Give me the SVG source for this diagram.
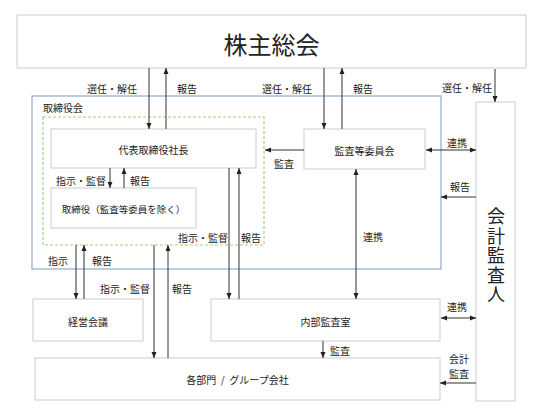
<svg xmlns="http://www.w3.org/2000/svg" width="544" height="412" viewBox="0 0 544 412">
<style>
text{font-family:"Noto Sans CJK JP","Noto Sans",sans-serif;fill:#222;font-size:10px;dominant-baseline:central;text-anchor:middle}
.box{fill:#fff;stroke:#d4d4d4;stroke-width:1.2}
.c line{stroke:#333;stroke-width:1;fill:none}
.a{marker-end:url(#ah)}
.b{marker-end:url(#ah);marker-start:url(#ah)}
</style>
<defs>
<marker id="ah" viewBox="0 0 6 6" refX="6" refY="3" markerWidth="6" markerHeight="6" markerUnits="userSpaceOnUse" orient="auto-start-reverse">
<path d="M0,0.5 L6,3 L0,5.5 z" fill="#222"/>
</marker>
</defs>
<rect width="544" height="412" fill="#fff"/>

<g id="torishimariyakukai">
<rect x="32" y="96" width="409" height="173" fill="none" stroke="#93acc9" stroke-width="1.2"/>
<text x="43" y="107" style="text-anchor:start">取締役会</text>
</g>
<g id="green-group">
<rect x="43" y="117" width="221" height="128" fill="none" stroke="#a3d17a" stroke-width="1.2" stroke-dasharray="3,2"/>
</g>

<g id="kabunushi">
<rect class="box" x="17" y="15" width="509" height="53"/>
<text x="271.5" y="43" style="font-size:24px">株主総会</text>
</g>
<g id="daihyo">
<rect class="box" x="51" y="129" width="205" height="39"/>
<text x="153.5" y="149">代表取締役社長</text>
</g>
<g id="torishimariyaku">
<rect class="box" x="51" y="188" width="145" height="40"/>
<text x="123.5" y="209" style="font-size:9.5px">取締役（監査等委員を除く）</text>
</g>
<g id="kansatou">
<rect class="box" x="304" y="129" width="121" height="40"/>
<text x="364.5" y="150">監査等委員会</text>
</g>
<g id="kaikei">
<rect class="box" x="476" y="102" width="39" height="299"/>
<text x="496" y="256" style="font-size:18px;writing-mode:vertical-rl;letter-spacing:1.5px">会計監査人</text>
</g>
<g id="keiei">
<rect class="box" x="33" y="299" width="110" height="42"/>
<text x="88" y="321">経営会議</text>
</g>
<g id="naibu">
<rect class="box" x="211" y="299" width="229" height="42"/>
<text x="325.5" y="321">内部監査室</text>
</g>
<g id="kakubumon">
<rect class="box" x="35" y="358" width="405" height="42"/>
<text x="237.5" y="379" style="white-space:pre">各部門  /  グループ会社</text>
</g>

<g id="connectors" class="c">
<line class="a" x1="149" y1="68" x2="149" y2="129"/>
<line class="a" x1="166" y1="129" x2="166" y2="68"/>
<line class="a" x1="324" y1="68" x2="324" y2="129"/>
<line class="a" x1="342" y1="129" x2="342" y2="68"/>
<line class="a" x1="495" y1="69" x2="495" y2="102"/>
<line class="a" x1="304" y1="150" x2="265" y2="150"/>
<line class="b" x1="426" y1="150" x2="476" y2="150"/>
<line class="a" x1="476" y1="197" x2="441" y2="197"/>
<line class="a" x1="110" y1="168" x2="110" y2="188"/>
<line class="a" x1="124" y1="188" x2="124" y2="168"/>
<line class="a" x1="76" y1="245" x2="76" y2="299"/>
<line class="a" x1="84" y1="299" x2="84" y2="245"/>
<line class="a" x1="154" y1="245" x2="154" y2="358"/>
<line class="a" x1="168" y1="358" x2="168" y2="245"/>
<line class="a" x1="229" y1="168" x2="229" y2="299"/>
<line class="a" x1="239" y1="299" x2="239" y2="168"/>
<line class="b" x1="356" y1="169" x2="356" y2="299"/>
<line class="a" x1="323" y1="341" x2="323" y2="358"/>
<line class="b" x1="441" y1="318" x2="476" y2="318"/>
<line class="a" x1="476" y1="383" x2="440" y2="383"/>
</g>

<g id="labels">
<text x="112" y="88">選任・解任</text>
<text x="187" y="88">報告</text>
<text x="287" y="88">選任・解任</text>
<text x="363" y="88">報告</text>
<text x="467" y="87">選任・解任</text>
<text x="284" y="163">監査</text>
<text x="457" y="142">連携</text>
<text x="460" y="186">報告</text>
<text x="81" y="180">指示・監督</text>
<text x="140" y="180">報告</text>
<text x="203" y="237">指示・監督</text>
<text x="251" y="237">報告</text>
<text x="58" y="260">指示</text>
<text x="102" y="260">報告</text>
<text x="125" y="288">指示・監督</text>
<text x="182" y="288">報告</text>
<text x="373" y="236">連携</text>
<text x="457" y="306">連携</text>
<text x="340" y="350">監査</text>
<text x="459" y="358"><tspan x="459" y="358">会計</tspan><tspan x="459" y="373">監査</tspan></text>
</g>
</svg>
